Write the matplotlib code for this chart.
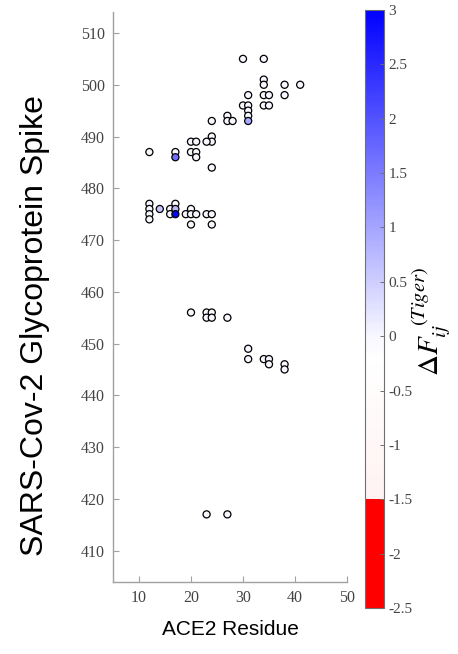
import matplotlib
matplotlib.use("Agg")
import matplotlib.pyplot as plt
import numpy as np
from matplotlib.colors import LinearSegmentedColormap, Normalize

# ---- data ----
ace2_residue = [30, 34, 34, 34, 38, 41, 31, 34, 35, 38, 30, 31, 34, 35,
                31, 31, 31, 27, 27, 28, 24, 24, 24, 23, 20, 21, 20, 21, 21,
                12, 17, 17, 24,
                12, 12, 12, 12, 14, 16, 16, 17, 17, 17, 19, 20, 20, 20, 21,
                23, 24, 24,
                20, 23, 24, 23, 24, 27, 31, 31, 34, 35, 35, 38, 38, 23, 27]
spike_residue = [505, 505, 501, 500, 500, 500, 498, 498, 498, 498, 496, 496, 496, 496,
                 495, 494, 493, 494, 493, 493, 493, 490, 489, 489, 489, 489, 487, 487, 486,
                 487, 487, 486, 484,
                 477, 476, 475, 474, 476, 476, 475, 477, 476, 475, 475, 476, 475, 473, 475,
                 475, 475, 473,
                 456, 456, 456, 455, 455, 455, 449, 447, 447, 447, 446, 446, 445, 417, 417]
delta_f = [0, 0, 0, 0, 0, 0, 0, 0, 0, 0, 0, 0, 0, 0,
           0, 0, 0.95, 0, 0, 0, 0, 0, 0, 0, 0, 0, 0, 0, 0,
           0, 0, 1.65, 0,
           0, 0, 0, 0, 0.6, 0, 0, 0, 0.75, 2.95, 0, 0, 0, 0, 0,
           0, 0, 0,
           0, 0, 0, 0, 0, 0, 0, 0, 0, 0, 0, 0, 0, 0, 0]

x_ticks = [10, 20, 30, 40, 50]
y_ticks = [410, 420, 430, 440, 450, 460, 470, 480, 490, 500, 510]
cbar_ticks = [3, 2.5, 2, 1.5, 1, 0.5, 0, -0.5, -1, -1.5, -2, -2.5]
cmin, cmax = -2.5, 3.0

# ---- colormap ----
def pos(v):
    return (v - cmin) / (cmax - cmin)

cmap = LinearSegmentedColormap.from_list(
    "tiger",
    [(pos(-2.5), (1.0, 0.0, 0.0)),
     (pos(-1.501), (1.0, 0.0, 0.0)),
     (pos(-1.5), (1.0, 0.95, 0.95)),
     (pos(-0.2), (1.0, 1.0, 1.0)),
     (pos(0.0), (0.97, 0.97, 1.0)),
     (pos(3.0), (0.0, 0.0, 1.0))], N=512)

plt.rcParams['mathtext.fontset'] = 'stix'
serif = ['Liberation Serif', 'DejaVu Serif']
sans = ['Liberation Sans', 'DejaVu Sans']
tick_col = '#444444'
spine_col = '#a0a0a0'

W, H = 458, 654
fig = plt.figure(figsize=(W / 100, H / 100), dpi=100)
ax = fig.add_axes([0.2467, 0.1106, 0.5109, 0.8706])
sc = ax.scatter(ace2_residue, spike_residue, c=delta_f, cmap=cmap,
                norm=Normalize(cmin, cmax), s=26, edgecolors='black',
                linewidths=0.9, zorder=3)
ax.set_xlim(5, 50)
ax.set_ylim(404, 514)
ax.set_xticks(x_ticks)
ax.set_yticks(y_ticks)
for s in ['top', 'right']:
    ax.spines[s].set_visible(False)
for s in ['left', 'bottom']:
    ax.spines[s].set_color(spine_col)
    ax.spines[s].set_linewidth(1.0)
ax.tick_params(direction='in', length=4, width=0.8, color=spine_col,
               labelcolor=tick_col, labelsize=11.5, pad=6)
for lab in ax.get_xticklabels() + ax.get_yticklabels():
    lab.set_family(serif)

ax.set_xlabel('ACE2 Residue', family=sans, fontsize=15, labelpad=10)
fig.text(35 / W, 1 - 326 / H, 'SARS-Cov-2 Glycoprotein Spike', family=sans,
         fontsize=23, rotation=90, ha='center', va='center')

cax = fig.add_axes([0.797, 0.0703, 0.0415, 0.9144])
cb = fig.colorbar(sc, cax=cax)
cb.set_ticks(cbar_ticks)
cb.set_ticklabels([f'{t:g}' for t in cbar_ticks])
cb.outline.set_edgecolor('#707070')
cb.outline.set_linewidth(0.8)
cax.tick_params(direction='in', length=3, width=0.7, color='#707070',
                labelcolor=tick_col, labelsize=11, pad=3)
for lab in cax.get_yticklabels():
    lab.set_family(serif)
fig.text(431 / W, 1 - 322 / H, r'$\Delta F_{ij}^{\;\;(Tiger)}$', fontsize=21,
         rotation=90, ha='center', va='center')

fig.savefig('out.png', dpi=100)
